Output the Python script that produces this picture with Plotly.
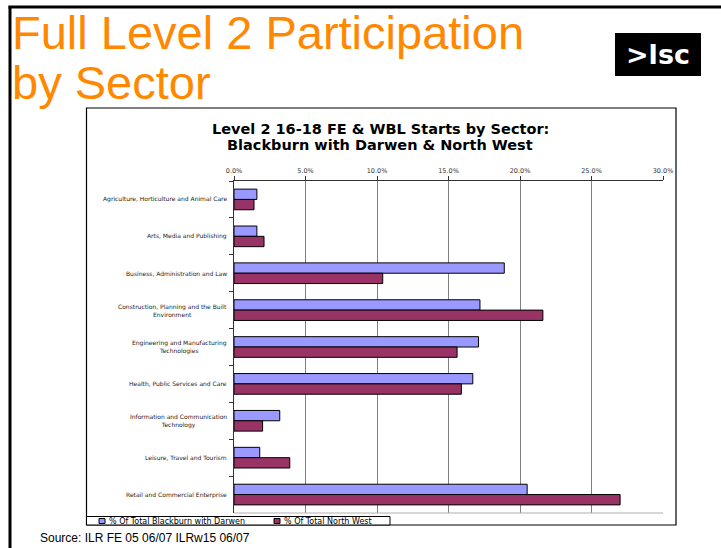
import plotly.graph_objects as go

# sector shares (%)
sectors = [
    "Agriculture, Horticulture and Animal Care",
    "Arts, Media and Publishing",
    "Business, Administration and Law",
    "Construction, Planning and the Built<br>Environment",
    "Engineering and Manufacturing<br>Technologies",
    "Health, Public Services and Care",
    "Information and Communication<br>Technology",
    "Leisure, Travel and Tourism",
    "Retail and Commercial Enterprise",
]
blackburn = [1.6, 1.6, 18.9, 17.2, 17.1, 16.7, 3.2, 1.8, 20.5]
north_west = [1.4, 2.1, 10.4, 21.6, 15.6, 15.9, 2.0, 3.9, 27.0]
series_names = ["% Of Total Blackburn with Darwen", "% Of Total North West"]
x_ticks = [0, 5, 10, 15, 20, 25, 30]

W, H = 721, 548
L, R, T, B = 234, 58, 181, 35


def px(x):
    return (x - L) / (W - L - R)


def py(y):
    return (H - B - y) / (H - T - B)


blue = "#9999FF"
maroon = "#993366"

fig = go.Figure()
fig.add_trace(go.Bar(y=sectors, x=blackburn, orientation="h", name=series_names[0],
                     marker=dict(color=blue, line=dict(color="black", width=1))))
fig.add_trace(go.Bar(y=sectors, x=north_west, orientation="h", name=series_names[1],
                     marker=dict(color=maroon, line=dict(color="black", width=1))))

fig.update_layout(
    width=W, height=H,
    margin=dict(l=L, r=R, t=T, b=B),
    paper_bgcolor="white", plot_bgcolor="white",
    barmode="group", bargap=0.44, bargroupgap=0,
    showlegend=False,
    font=dict(family="DejaVu Sans", color="black"),
)
fig.update_xaxes(
    side="top", range=[0, 30], tickvals=x_ticks,
    ticktext=["%.1f%%" % v for v in x_ticks],
    tickfont=dict(size=6.5, color="#333"),
    showgrid=True, gridcolor="#808080", gridwidth=1,
    showline=True, linecolor="#333", linewidth=1,
    ticks="outside", ticklen=4, tickcolor="#333",
    zeroline=False, fixedrange=True,
)
fig.update_yaxes(
    autorange="reversed", showticklabels=False,
    showline=True, linecolor="#333", linewidth=1,
    ticks="outside", ticklen=4, tickcolor="#333", tickson="boundaries",
    showgrid=False, fixedrange=True,
)

shapes = [
    # slide border
    dict(type="line", xref="paper", yref="paper", x0=px(10), x1=px(10), y0=py(6), y1=py(560),
         line=dict(color="black", width=3)),
    dict(type="line", xref="paper", yref="paper", x0=px(8.5), x1=px(730), y0=py(7), y1=py(7),
         line=dict(color="black", width=3)),
    # chart box
    dict(type="rect", xref="paper", yref="paper", x0=px(86.5), x1=px(676), y0=py(108), y1=py(525),
         line=dict(color="black", width=1.2), layer="below"),
    # plot area bottom edge
    dict(type="line", xref="paper", yref="paper", x0=0, x1=1, y0=0, y1=0,
         line=dict(color="#B0B0B0", width=1)),
    # logo
    dict(type="rect", xref="paper", yref="paper", x0=px(615), x1=px(701), y0=py(33), y1=py(76),
         fillcolor="black", line=dict(width=0)),
    # legend box and keys
    dict(type="rect", xref="paper", yref="paper", x0=px(86.5), x1=px(390), y0=py(516.5), y1=py(525),
         fillcolor="white", line=dict(color="black", width=1)),
    dict(type="rect", xref="paper", yref="paper", x0=px(99), x1=px(105), y0=py(518.5), y1=py(523.5),
         fillcolor=blue, line=dict(color="black", width=1)),
    dict(type="rect", xref="paper", yref="paper", x0=px(274), x1=px(280), y0=py(518.5), y1=py(523.5),
         fillcolor=maroon, line=dict(color="black", width=1)),
]

annotations = [
    dict(text="Full Level 2 Participation", x=px(9.5), y=py(3.5), xanchor="left", yanchor="top",
         font=dict(family="Liberation Sans, Arial", size=47, color="#FF8800")),
    dict(text="by Sector", x=px(9.5), y=py(54), xanchor="left", yanchor="top",
         font=dict(family="Liberation Sans, Arial", size=47, color="#FF8800")),
    dict(text="<b>&gt;lsc</b>", x=px(658), y=py(55), xanchor="center", yanchor="middle",
         font=dict(family="DejaVu Sans", size=27, color="white")),
    dict(text="<b>Level 2 16-18 FE & WBL Starts by Sector:</b>", x=px(380), y=py(129),
         xanchor="center", yanchor="middle", font=dict(size=14.5, color="black")),
    dict(text="<b>Blackburn with Darwen & North West</b>", x=px(380), y=py(145),
         xanchor="center", yanchor="middle", font=dict(size=14.5, color="black")),
    dict(text=series_names[0], x=px(106.5), y=py(521), xanchor="left", yanchor="middle",
         font=dict(size=8, color="black")),
    dict(text=series_names[1], x=px(281.5), y=py(521), xanchor="left", yanchor="middle",
         font=dict(size=8, color="black")),
    dict(text="Source: ILR FE 05 06/07 ILRw15 06/07", x=px(38), y=py(538), xanchor="left",
         yanchor="middle", font=dict(family="Liberation Sans, Arial", size=12, color="black")),
]
for s in sectors:
    annotations.append(dict(text=s, xref="paper", yref="y", x=px(229), y=s, xanchor="right",
                            yanchor="middle", align="center",
                            font=dict(size=6, color="#222")))
for a in annotations:
    a.setdefault("xref", "paper")
    a.setdefault("yref", "paper")
    a["showarrow"] = False

fig.update_layout(shapes=shapes, annotations=annotations)
# the page's default body margin would shift the figure by 8px
fig.write_html("out.html", config={"displayModeBar": False},
               post_script="document.body.style.margin='0';")
